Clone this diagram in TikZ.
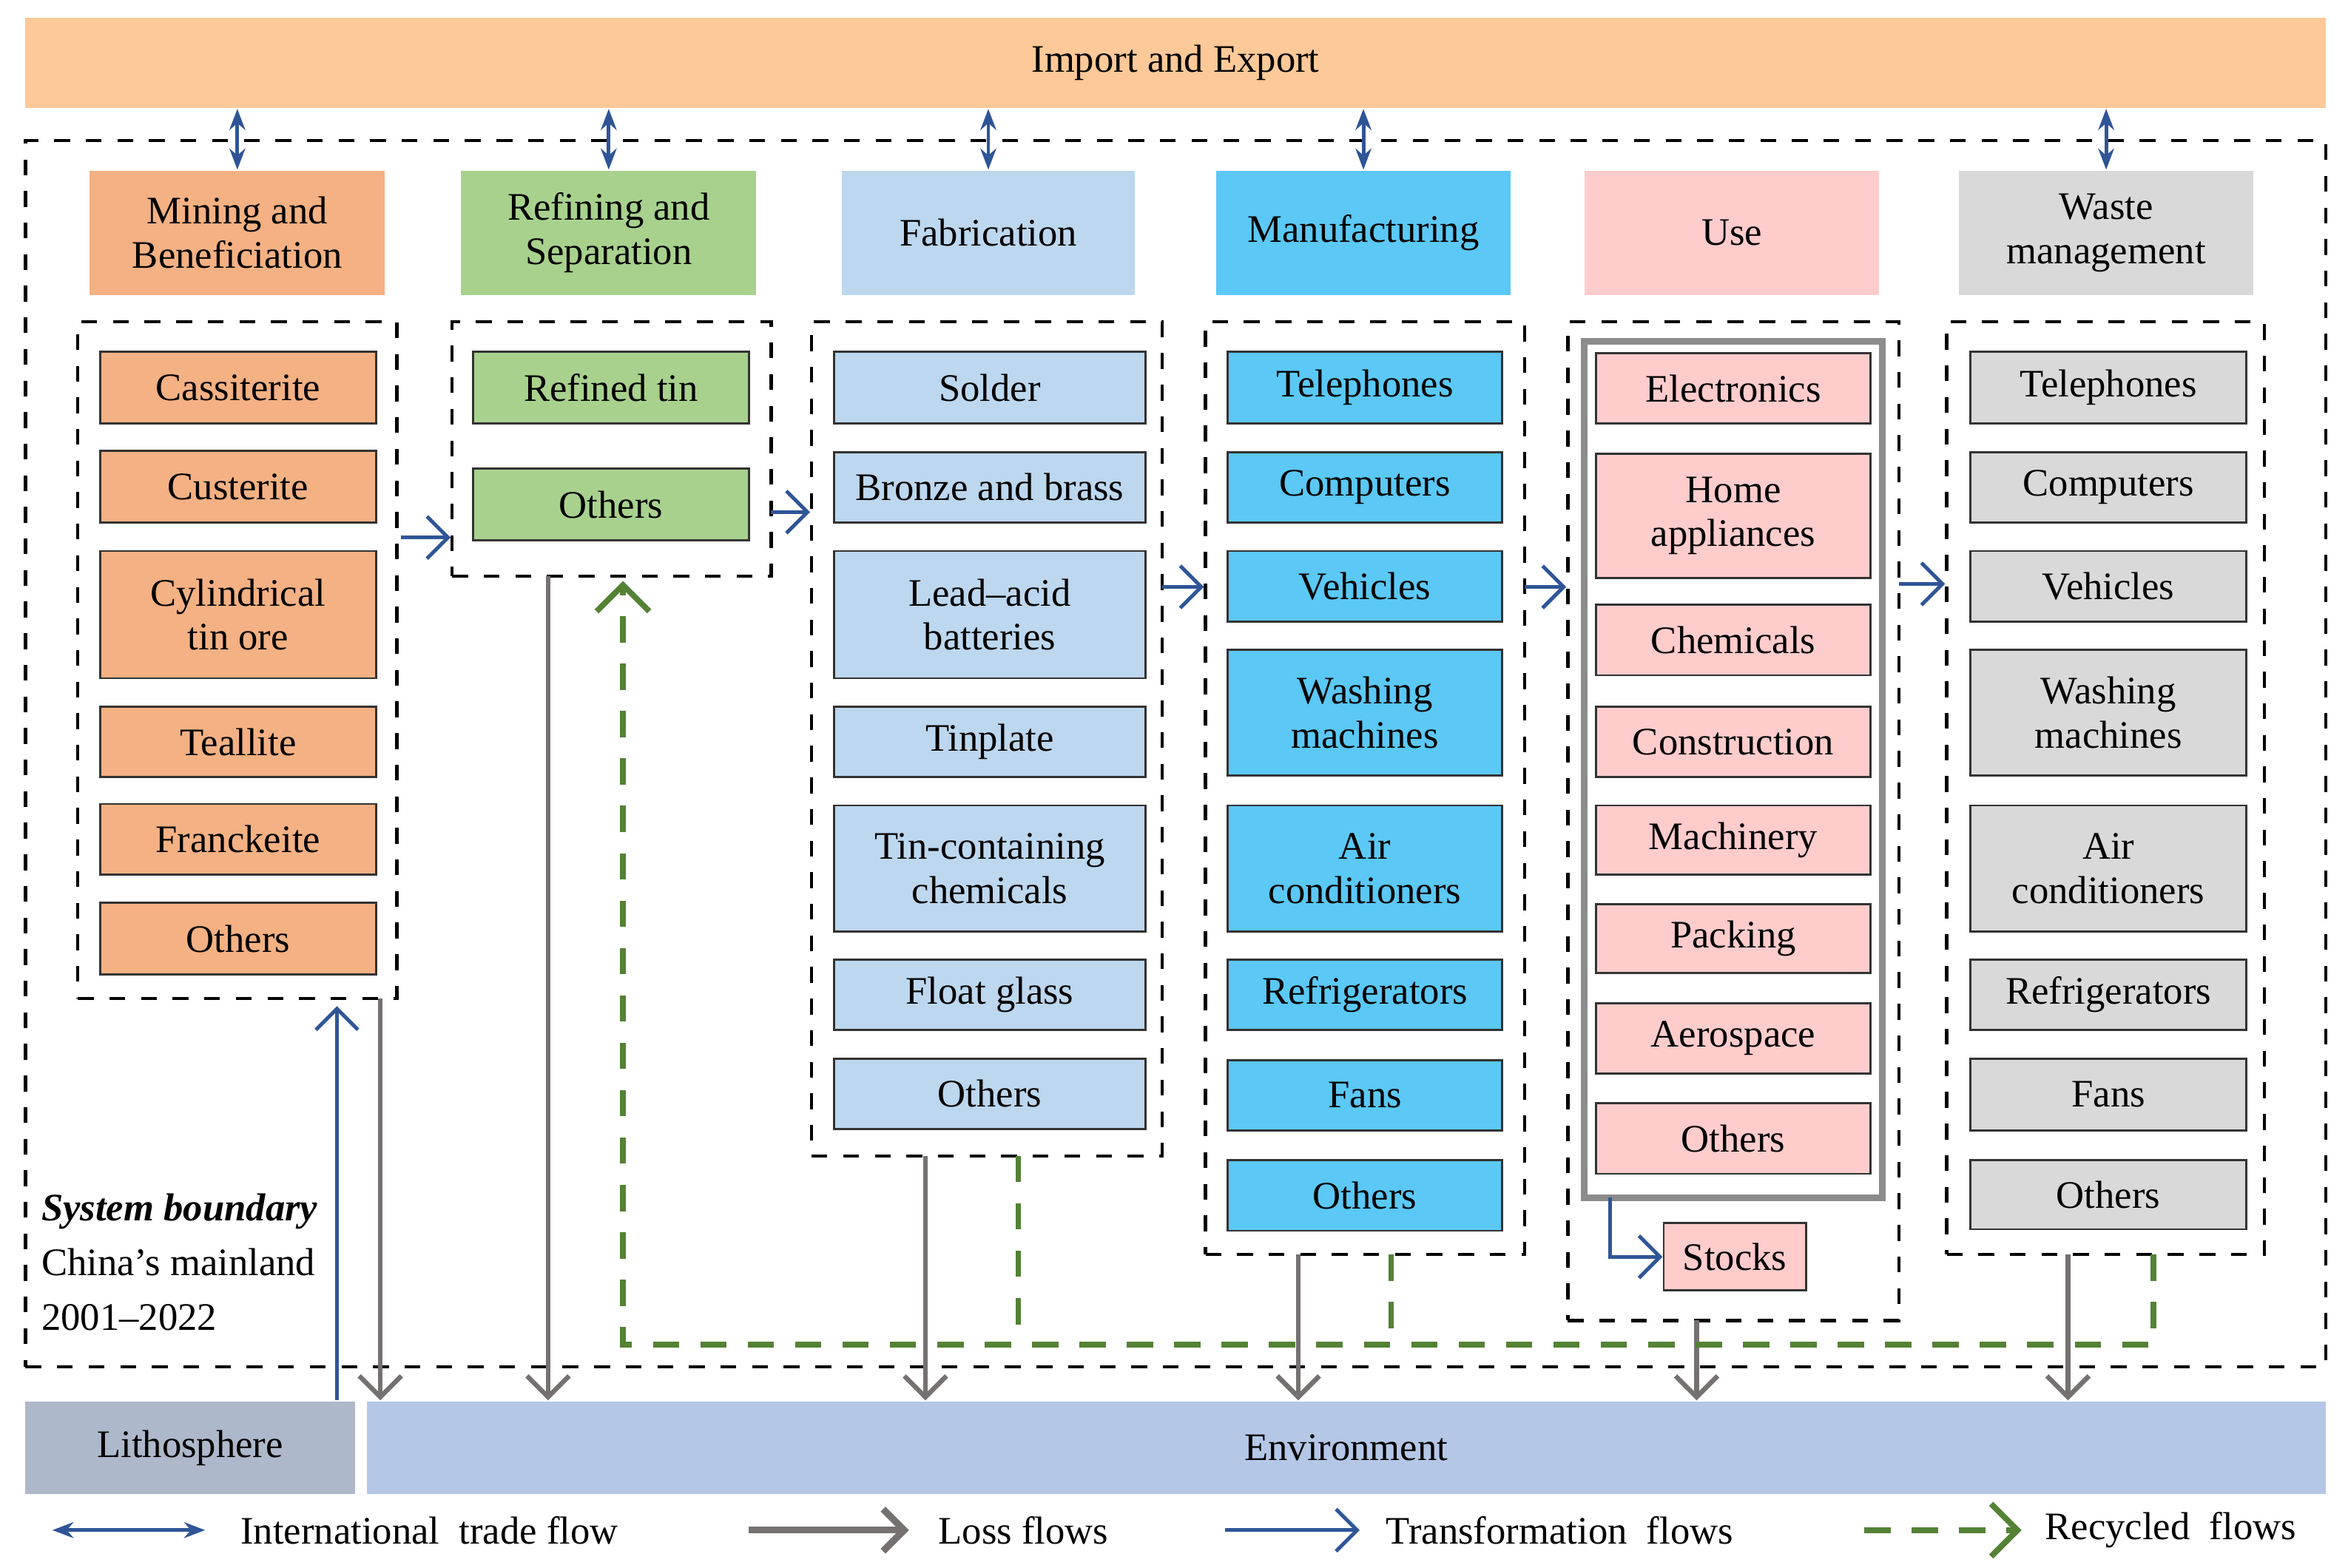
\documentclass[tikz,border=0pt]{standalone}
\usepackage{fontspec}
\setmainfont{Liberation Serif}
\usepackage{tikz}
\usetikzlibrary{arrows.meta,positioning,calc}

\definecolor{topbar}{HTML}{FDC998}
\definecolor{minec}{HTML}{F4B183}
\definecolor{refc}{HTML}{A9D18E}
\definecolor{fabc}{HTML}{BDD7EE}
\definecolor{manuc}{HTML}{5BC8F5}
\definecolor{usec}{HTML}{FFCCCC}
\definecolor{wastec}{HTML}{D9D9D9}
\definecolor{lithoc}{HTML}{ADB9CA}
\definecolor{envc}{HTML}{B4C7E7}
\definecolor{tradec}{HTML}{2F5597}
\definecolor{lossc}{HTML}{767171}
\definecolor{recc}{HTML}{548235}

% box from corner (x1,y1) to (x2,y2), in pixels
\newcommand{\pbox}[7]{%
  \node[#6, minimum width={(#3-#2)*0.01cm}, minimum height={(#5-#4)*0.01cm}]
    (#1) at ({(#2+#3)/2},{(#4+#5)/2}) {#7};}

\begin{document}
\begin{tikzpicture}[
    x=0.01cm, y=-0.01cm,
    font=\fontsize{7.4}{8.4}\selectfont,
    item/.style={rectangle, draw=black!80, line width=0.4pt, inner sep=0pt, align=center},
    head/.style={rectangle, inner sep=0pt, align=center},
    dbox/.style={rectangle, draw, dashed, line width=0.6pt, inner sep=0pt},
    trade/.style={{Stealth[length=4pt]}-{Stealth[length=4pt]}, draw=tradec, line width=0.7pt},
    trans/.style={-{Straight Barb[length=4pt]}, draw=tradec, line width=0.7pt},
    loss/.style={-{Straight Barb[length=4pt]}, draw=lossc, line width=0.9pt},
    rec/.style={draw=recc, line width=1.1pt, dash pattern=on 5pt off 4pt}
]
    \useasboundingbox (0,0) rectangle (1568,1047);

    % frame
    \pbox{imex}{17}{1553}{12}{72}{head, fill=topbar}{Import and Export}
    \pbox{sys}{17}{1553}{94}{913}{dbox}{}

    % stage headers
    \pbox{mineH}{60}{257}{114}{197}{head, fill=minec}{Mining and\\Beneficiation}
    \pbox{refH}{308}{505}{114}{197}{head, fill=refc}{Refining and\\Separation}
    \pbox{fabH}{562}{758}{114}{197}{head, fill=fabc}{Fabrication}
    \pbox{manuH}{812}{1009}{114}{197}{head, fill=manuc}{Manufacturing}
    \pbox{useH}{1058}{1255}{114}{197}{head, fill=usec}{Use}
    \pbox{wasteH}{1308}{1505}{114}{197}{head, fill=wastec}{Waste\\management}

    \foreach \h in {mineH,refH,fabH,manuH,wasteH}
        \draw[trade] (imex.south -| \h.north) -- (\h.north);

    % mining
    \pbox{mineC}{52}{265}{215}{667}{dbox}{}
    \foreach \a/\b/\t in {235/283/Cassiterite, 301/349/Custerite, 368/453/{Cylindrical\\tin ore},
        472/519/Teallite, 537/584/Franckeite, 603/651/Others}
        {\pbox{m\a}{67}{251}{\a}{\b}{item, fill=minec}{\t}}

    % refining
    \pbox{refC}{302}{515}{215}{385}{dbox}{}
    \foreach \a/\b/\t in {235/283/Refined tin, 313/361/Others}
        {\pbox{r\a}{316}{500}{\a}{\b}{item, fill=refc}{\t}}

    % fabrication
    \pbox{fabC}{542}{776}{215}{772}{dbox}{}
    \foreach \a/\b/\t in {235/283/Solder, 302/349/Bronze and brass, 368/453/{Lead--acid\\batteries},
        472/519/Tinplate, 538/622/{Tin-containing\\chemicals}, 641/688/Float glass, 707/754/Others}
        {\pbox{f\a}{557}{765}{\a}{\b}{item, fill=fabc}{\t}}

    % manufacturing
    \pbox{manuC}{805}{1018}{215}{838}{dbox}{}
    \foreach \a/\b/\t in {235/283/Telephones, 302/349/Computers, 368/415/Vehicles,
        434/518/{Washing\\machines}, 538/622/{Air\\conditioners}, 641/688/Refrigerators,
        708/755/Fans, 775/822/Others}
        {\pbox{p\a}{820}{1003}{\a}{\b}{item, fill=manuc}{\t}}

    % use
    \pbox{useC}{1047}{1268}{215}{882}{dbox}{}
    \pbox{useG}{1058}{1257}{228}{800}{item, draw=black!45, line width=1.2pt}{}
    \foreach \a/\b/\t in {236/283/Electronics, 303/386/{Home\\appliances}, 404/451/Chemicals,
        472/519/Construction, 538/584/Machinery, 604/650/Packing, 670/717/Aerospace, 737/784/Others}
        {\pbox{u\a}{1066}{1249}{\a}{\b}{item, fill=usec}{\t}}
    \pbox{stocks}{1111}{1206}{817}{862}{item, fill=usec}{Stocks}

    % waste management
    \pbox{wasteC}{1300}{1512}{215}{838}{dbox}{}
    \foreach \a/\b/\t in {235/283/Telephones, 302/349/Computers, 368/415/Vehicles,
        434/518/{Washing\\machines}, 538/622/{Air\\conditioners}, 641/688/Refrigerators,
        707/755/Fans, 775/821/Others}
        {\pbox{w\a}{1316}{1500}{\a}{\b}{item, fill=wastec}{\t}}

    % spheres
    \pbox{litho}{17}{237}{936}{998}{head, fill=lithoc}{Lithosphere}
    \pbox{env}{245}{1553}{936}{998}{head, fill=envc}{Environment}

    % transformation flows
    \coordinate (t1) at (268,359);
    \coordinate (t2) at (515,342);
    \coordinate (t3) at (776,392);
    \coordinate (t4) at (1018,392);
    \coordinate (t5) at (1268,390);
    \draw[trans] (t1) -- (t1 -| refC.west);
    \draw[trans] (t2) -- (t2 -| fabC.west);
    \draw[trans] (t3) -- (t3 -| manuC.west);
    \draw[trans] (t4) -- (t4 -| useC.west);
    \draw[trans] (t5) -- (t5 -| wasteC.west);
    \coordinate (s1) at (1075,800);
    \draw[trans] (s1) |- (stocks.west);
    \coordinate (lt) at (225,672);
    \draw[trans] (lt |- litho.north) -- (lt);

    % loss flows
    \foreach \x/\y in {254/667, 366/385, 618/772, 867/838, 1133/882, 1381/838}
        {\coordinate (ls) at (\x,\y);
         \draw[loss] (ls) -- (ls |- env.north);}

    % recycled flows
    \coordinate (rf) at (680,772);
    \coordinate (rm) at (929,838);
    \coordinate (rw) at (1438,838);
    \coordinate (rr) at (416,388);
    \draw[rec] (rf) -- ++(0,126);
    \draw[rec] (rm) -- ++(0,60);
    \draw[rec, -{Straight Barb[length=5pt]}] (rw) -- ++(0,60) -| (rr);

    % system boundary
    \node[anchor=west, align=left, inner sep=0pt] (sb) at (27,843)
        {\textbf{\textit{System boundary}}\\[2pt]China's mainland\\[2pt]2001--2022};

    % legend
    \coordinate (l1) at (35,1022);  \coordinate (l2) at (137,1022);
    \coordinate (l3) at (500,1022); \coordinate (l4) at (607,1022);
    \coordinate (l5) at (818,1022); \coordinate (l6) at (908,1022);
    \coordinate (l7) at (1245,1022);\coordinate (l8) at (1350,1022);
    \draw[trade] (l1) -- (l2);
    \draw[loss, line width=1.3pt] (l3) -- (l4);
    \draw[trans] (l5) -- (l6);
    \draw[rec, -{Straight Barb[length=5pt]}] (l7) -- (l8);
    \node[anchor=west, inner sep=0pt] (lg1) at (160,1022) {International\ \ trade flow};
    \node[anchor=west, inner sep=0pt] (lg2) at (626,1022) {Loss flows};
    \node[anchor=west, inner sep=0pt] (lg3) at (925,1022) {Transformation\ \ flows};
    \node[anchor=west, inner sep=0pt] (lg4) at (1365,1022) {Recycled\ \ flows};
\end{tikzpicture}
\end{document}
